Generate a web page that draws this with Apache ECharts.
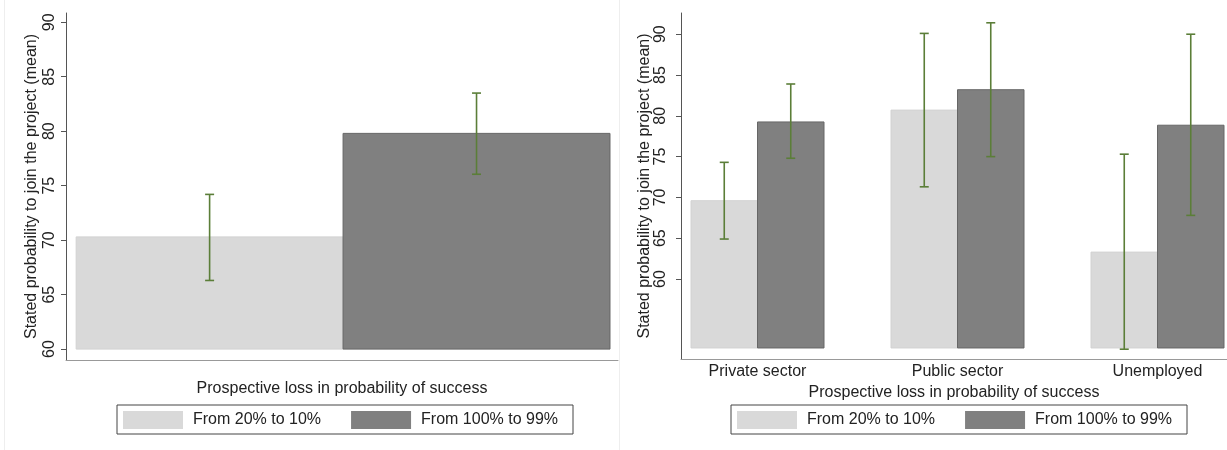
<html>
<head>
    <meta charset="utf-8">
    <title>Stated probability to join the project</title>
    <script src="https://cdn.jsdelivr.net/npm/echarts@6/dist/echarts.min.js"></script>
    <style>
        body { margin: 0; background: #fff; }
        #main { width: 1227px; height: 450px; }
    </style>
</head>
<body>
<div id="main"></div>
<script>
    // data
    var seriesNames = ['From 20% to 10%', 'From 100% to 99%'];
    var yTicks = [60, 65, 70, 75, 80, 85, 90];

    // left panel: pooled
    var leftLow = [70.3];
    var leftHigh = [79.8];
    var leftLowCI = [[66.3, 74.2]];
    var leftHighCI = [[76.05, 83.5]];

    // right panel: by employment status
    var rightCats = ['Private sector', 'Public sector', 'Unemployed'];
    var rightLow = [69.6, 80.7, 63.3];
    var rightHigh = [79.25, 83.2, 78.85];
    var rightLowCI = [[64.9, 74.3], [71.3, 90.1], [51.4, 75.3]];
    var rightHighCI = [[74.8, 83.9], [75.0, 91.4], [67.8, 90.0]];

    var font = '"Liberation Sans", Arial, sans-serif';
    var txt = '#222';
    var fs = 16;
    var lightCol = '#d9d9d9', darkCol = '#808080', ciCol = '#5b7e38';

    // bars: side -1 = left half of group, +1 = right half
    function barItem(side, w, base, fill, stroke) {
        return function (params, api) {
            var c = api.value(0), v = api.value(1);
            var xa = side < 0 ? c - w : c;
            var p0 = api.coord([xa, v]);
            var p1 = api.coord([xa + w, base]);
            return {
                type: 'rect',
                shape: {x: p0[0], y: p0[1], width: p1[0] - p0[0], height: p1[1] - p0[1]},
                style: {fill: fill, stroke: stroke, lineWidth: 1}
            };
        };
    }

    function ciItem(params, api) {
        var x = api.value(0);
        var top = api.coord([x, api.value(2)]);
        var bot = api.coord([x, api.value(1)]);
        var cap = 4.5;
        var st = {stroke: ciCol, lineWidth: 1.6};
        return {
            type: 'group',
            children: [
                {type: 'line', shape: {x1: top[0], y1: top[1], x2: bot[0], y2: bot[1]}, style: st},
                {type: 'line', shape: {x1: top[0] - cap, y1: top[1], x2: top[0] + cap, y2: top[1]}, style: st},
                {type: 'line', shape: {x1: bot[0] - cap, y1: bot[1], x2: bot[0] + cap, y2: bot[1]}, style: st}
            ]
        };
    }

    function barData(vals) {
        return vals.map(function (v, i) { return [i + 1, v]; });
    }

    function ciData(cis, offset) {
        return cis.map(function (ci, i) { return [i + 1 + offset, ci[0], ci[1]]; });
    }

    var LW = 0.5;     // left bar width (x units)
    var RW = 0.3325;  // right bar width (x units)
    var leftBase = 60, rightBase = 51.55;

    var yAxisCommon = {
        type: 'value',
        name: 'Stated probability to join the project (mean)',
        nameLocation: 'middle',
        nameRotate: 90,
        nameTextStyle: {fontFamily: font, fontSize: fs, color: txt},
        splitLine: {show: false},
        axisLine: {show: true, lineStyle: {color: '#555', width: 1}},
        axisTick: {show: true, length: 5, customValues: yTicks, lineStyle: {color: '#555'}},
        axisLabel: {rotate: 90, fontFamily: font, fontSize: fs, color: txt, customValues: yTicks}
    };

    var legendCommon = {
        data: seriesNames,
        icon: 'rect',
        itemWidth: 60,
        itemHeight: 18,
        itemGap: 30,
        borderColor: '#444',
        borderWidth: 1,
        padding: [6, 15, 5, 6],
        textStyle: {fontFamily: font, fontSize: fs, color: txt, padding: [0, 0, 0, 5]},
        selectedMode: false
    };

    var myChart = echarts.init(document.getElementById('main'));

    var option = {
        backgroundColor: '#fff',
        animation: false,
        grid: [
            {left: 66, top: 13, width: 552, height: 347},
            {left: 681, top: 13, width: 546, height: 346}
        ],
        xAxis: [
            {
                gridIndex: 0, type: 'value', min: 0.481, max: 1.515,
                name: 'Prospective loss in probability of success',
                nameLocation: 'middle', nameGap: 21,
                nameTextStyle: {fontFamily: font, fontSize: fs, color: txt},
                splitLine: {show: false},
                axisLine: {show: true, lineStyle: {color: '#999'}},
                axisTick: {show: false},
                axisLabel: {show: false}
            },
            {
                gridIndex: 1, type: 'value', min: 0.6175, max: 3.3475,
                name: 'Prospective loss in probability of success',
                nameLocation: 'middle', nameGap: 20,
                nameTextStyle: {fontFamily: font, fontSize: fs, color: txt},
                splitLine: {show: false},
                axisLine: {show: true, lineStyle: {color: '#999'}},
                axisTick: {show: false},
                axisLabel: {
                    customValues: [1, 2, 3], margin: 5,
                    fontFamily: font, fontSize: fs, color: txt,
                    formatter: function (v) { return rightCats[Math.round(v) - 1]; }
                }
            }
        ],
        yAxis: [
            Object.assign({}, yAxisCommon, {
                gridIndex: 0, min: 59, max: 90.85, nameGap: 26,
                axisLabel: Object.assign({}, yAxisCommon.axisLabel, {margin: 8})
            }),
            Object.assign({}, yAxisCommon, {
                gridIndex: 1, min: 50.2, max: 92.6, nameGap: 27,
                axisLabel: Object.assign({}, yAxisCommon.axisLabel, {margin: 12})
            })
        ],
        legend: [
            Object.assign({}, legendCommon, {left: 117, top: 405}),
            Object.assign({}, legendCommon, {left: 731, top: 405})
        ],
        graphic: [
            {type: 'line', shape: {x1: 4.5, y1: 0, x2: 4.5, y2: 450}, style: {stroke: '#eee', lineWidth: 1}},
            {type: 'line', shape: {x1: 619.5, y1: 0, x2: 619.5, y2: 450}, style: {stroke: '#eee', lineWidth: 1}}
        ],
        series: [
            {
                name: seriesNames[0], type: 'custom', xAxisIndex: 0, yAxisIndex: 0,
                itemStyle: {color: lightCol},
                renderItem: barItem(-1, LW, leftBase, lightCol, '#d2d2d2'),
                data: barData(leftLow)
            },
            {
                name: seriesNames[1], type: 'custom', xAxisIndex: 0, yAxisIndex: 0,
                itemStyle: {color: darkCol},
                renderItem: barItem(1, LW, leftBase, darkCol, '#666'),
                data: barData(leftHigh)
            },
            {
                type: 'custom', xAxisIndex: 0, yAxisIndex: 0, z: 5,
                renderItem: ciItem,
                data: ciData(leftLowCI, -LW / 2).concat(ciData(leftHighCI, LW / 2))
            },
            {
                name: seriesNames[0], type: 'custom', xAxisIndex: 1, yAxisIndex: 1,
                itemStyle: {color: lightCol},
                renderItem: barItem(-1, RW, rightBase, lightCol, '#d2d2d2'),
                data: barData(rightLow)
            },
            {
                name: seriesNames[1], type: 'custom', xAxisIndex: 1, yAxisIndex: 1,
                itemStyle: {color: darkCol},
                renderItem: barItem(1, RW, rightBase, darkCol, '#666'),
                data: barData(rightHigh)
            },
            {
                type: 'custom', xAxisIndex: 1, yAxisIndex: 1, z: 5,
                renderItem: ciItem,
                data: ciData(rightLowCI, -RW / 2).concat(ciData(rightHighCI, RW / 2))
            }
        ]
    };

    myChart.setOption(option);
</script>
</body>
</html>
